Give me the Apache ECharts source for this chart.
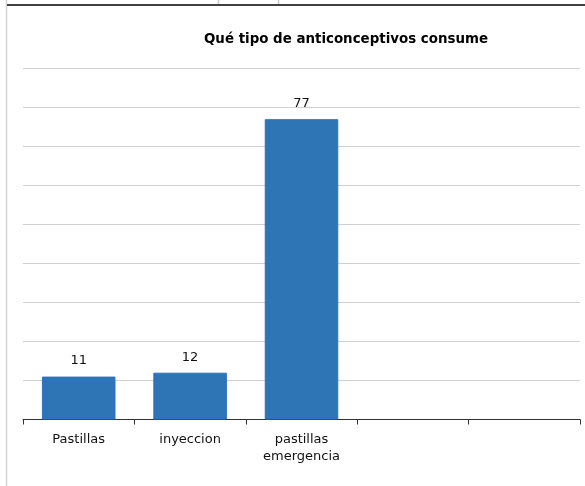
<!DOCTYPE html>
<html>
<head>
<meta charset="utf-8">
<script src="https://cdn.jsdelivr.net/npm/echarts@6/dist/echarts.min.js"></script>
<style>
  html, body { margin: 0; padding: 0; background: #ffffff; }
  #chart { width: 585px; height: 486px; }
</style>
</head>
<body>
<div id="chart"></div>
<script>
// data
const titleText = 'Qué tipo de anticonceptivos consume';
const categories = ['Pastillas', 'inyeccion', 'pastillas\nemergencia', '', ''];
const counts = [11, 12, 77, null, null];
const yTicks = [0, 90, 10]; // min, max, interval

const chart = echarts.init(document.getElementById('chart'));

chart.setOption({
  animation: false,
  title: {
    text: titleText,
    left: 341,
    textAlign: 'center',
    top: 27,
    textStyle: {
      fontFamily: 'DejaVu Sans',
      fontSize: 13.4,
      fontWeight: 'bold',
      color: '#000000',
      lineHeight: 16,
    },
  },
  grid: {
    left: 23,
    right: 5,
    top: 68.5,
    bottom: 66.5,
    containLabel: false,
  },
  xAxis: {
    type: 'category',
    data: categories,
    axisLine: { lineStyle: { color: '#333333', width: 1 } },
    axisTick: { show: true, length: 5, lineStyle: { color: '#333333' } },
    axisLabel: {
      fontFamily: 'DejaVu Sans',
      fontSize: 13,
      color: '#111111',
      margin: 12,
      lineHeight: 17,
      interval: 0,
    },
    splitLine: { show: false },
  },
  yAxis: {
    type: 'value',
    min: yTicks[0],
    max: yTicks[1],
    interval: yTicks[2],
    axisLine: { show: false },
    axisTick: { show: false },
    axisLabel: { show: false },
    splitLine: { show: true, lineStyle: { color: '#d0d0d0', width: 1 } },
  },
  series: [
    {
      type: 'bar',
      data: counts,
      barCategoryGap: '34%',
      itemStyle: {
        color: '#2e75b6',
        borderColor: '#2a6fc9',
        borderWidth: 1,
      },
      label: {
        show: true,
        position: 'top',
        distance: 9,
        fontFamily: 'DejaVu Sans',
        fontSize: 13,
        color: '#111111',
      },
    },
  ],
  graphic: [
    // page frame remnants around the chart
    { type: 'line', shape: { x1: 6.5, y1: 0, x2: 6.5, y2: 486 }, style: { stroke: '#d4d4d4', lineWidth: 1.5 } },
    { type: 'line', shape: { x1: 7, y1: 5, x2: 585, y2: 5 }, style: { stroke: '#404040', lineWidth: 2 } },
    { type: 'line', shape: { x1: 218.5, y1: 0, x2: 218.5, y2: 4 }, style: { stroke: '#c8c8c8', lineWidth: 1.5 } },
    { type: 'line', shape: { x1: 278.5, y1: 0, x2: 278.5, y2: 4 }, style: { stroke: '#c8c8c8', lineWidth: 1.5 } },
  ],
});
</script>
</body>
</html>
